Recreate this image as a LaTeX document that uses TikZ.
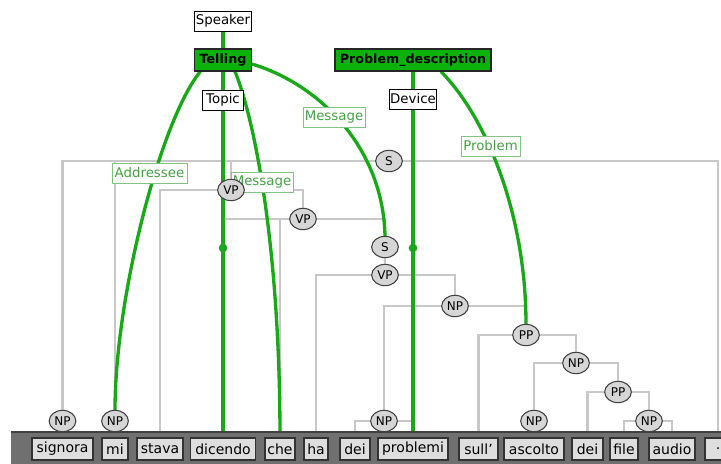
\documentclass[tikz,border=0pt]{standalone}
\usepackage{fontspec}
\setmainfont{DejaVu Sans}
\usetikzlibrary{shapes.geometric}
\definecolor{treegray}{RGB}{200,200,200}
\definecolor{linkgreen}{RGB}{24,168,24}
\definecolor{framefill}{RGB}{10,178,10}
\definecolor{rolegreen}{RGB}{70,160,70}
\definecolor{roleline}{RGB}{130,195,130}
\definecolor{catfill}{RGB}{214,214,214}
\definecolor{barfill}{RGB}{112,112,112}
\definecolor{wordfill}{RGB}{222,222,222}
\pgfdeclarelayer{lines}
\pgfsetlayers{lines,main}

\begin{document}
\begin{tikzpicture}[x=0.75pt, y=-0.75pt, every node/.style={inner sep=0pt, font=\fontsize{10}{12}\selectfont},
  frame/.style={draw=black!85, fill=framefill, line width=0.8pt, minimum height=16.5pt, font=\fontsize{9.5}{11}\selectfont\bfseries},
  fe/.style={draw=black, fill=white, line width=0.7pt, minimum height=15pt},
  role/.style={draw=roleline, fill=white, text=rolegreen, line width=0.7pt, minimum height=15pt},
  cat/.style={ellipse, draw=black!75, fill=catfill, line width=0.8pt, minimum width=20pt, minimum height=16pt, font=\fontsize{9}{10}\selectfont},
  word/.style={draw=black!80, fill=wordfill, line width=0.8pt, minimum height=16.5pt, font=\fontsize{10.5}{12}\selectfont},
  branch/.style={treegray, line width=2.2pt},
  link/.style={linkgreen, line width=2.5pt},
  joint/.style={circle, fill=linkgreen, minimum size=6.5pt}]
  \useasboundingbox (0,0) rectangle (721,464);
  % frames and their elements
  \node[fe, minimum width=42.75pt] (speaker) at (223,21) {Speaker};
  \node[frame, minimum width=42.75pt] (telling) at (223,60) {Telling};
  \node[fe, minimum width=30.75pt] (topic) at (223,100) {Topic};
  \node[frame, minimum width=117pt] (probdesc) at (413,60) {Problem\_description};
  \node[fe, minimum width=35.25pt] (device) at (413,99) {Device};
  \node[role, minimum width=56.25pt] (addressee) at (149.5,173) {Addressee};
  \node[role, minimum width=46.5pt] (message1) at (262,182) {Message};
  \node[role, minimum width=46.5pt] (message2) at (334,117) {Message};
  \node[role, minimum width=44.25pt] (problem) at (490.5,146) {Problem};
  % syntactic categories
  \foreach \n/\x/\y/\c in {s1/389/161/S, np1/62.5/421/NP, np2/115/421/NP, vp1/231/190/VP,
      vp2/303/219/VP, s2/385/247/S, vp3/385/275/VP, np3/455/306/NP, np4/384/421/NP,
      pp1/526/335/PP, np5/576/363/NP, np6/534/421/NP, pp2/618/392/PP, np7/649/421/NP}
    \node[cat] (\n) at (\x,\y) {\c};
  % word bar
  \fill[barfill] (11,432) rectangle (721,464);
  \draw[black!75, line width=1pt] (11,432) -- (721,432);
  \foreach \i/\x/\w/\t in {1/62.5/45.75/signora, 2/115/19.5/mi, 3/160/34.5/stava, 4/223/48.75/dicendo,
      5/280/22.5/che, 6/316/18/ha, 7/355/22.5/dei, 8/413/52.5/problemi, 9/478.5/29.25/sull',
      10/534/45/ascolto, 11/587.5/23.25/dei, 12/624/21/file, 13/672/34.5/audio}
    \node[word, minimum width=\w pt] (w\i) at (\x,449) {\t};
  \node[word, minimum width=19.5pt] (w14) at (718,449) {.};
  \begin{pgfonlayer}{lines}
    % tree branches
    \foreach \a/\b in {s1/np1, s1/np2, s1/vp1, s1/w14, vp1/w3, vp1/vp2, vp2/w4, vp2/w5, vp2/s2,
        vp3/w6, vp3/np3, np3/np4, np3/pp1, np4/w7, np4/w8, pp1/w9, pp1/np5, np5/np6, np5/pp2,
        pp2/w11, pp2/np7, np7/w12, np7/w13}
      \draw[branch] (\a) -| (\b);
    \foreach \a/\b in {np1/w1, np2/w2, s2/vp3, np6/w10}
      \draw[branch] (\a) -- (\b);
    % frame links
    \draw[link] (speaker) -- (telling);
    \draw[link] (telling) -- (w4);
    \draw[link] (probdesc) -- (w8);
    \draw[link] ([xshift=-17pt]telling.south) .. controls +(-40,49) and +(0,-112) .. (np2.north);
    \draw[link] ([xshift=9pt]telling.south) .. controls +(20,49) and +(0,-188) .. (w5.north);
    \draw[link] ([yshift=-3pt]telling.east) .. controls +(69,21) and +(-2,-87) .. (s2.north);
    \draw[link] ([xshift=21pt]probdesc.south) .. controls +(48,49) and +(0,-105) .. (pp1.north);
    \node[joint] (j1) at (223,248) {};
    \node[joint] (j2) at (413,248) {};
  \end{pgfonlayer}
\end{tikzpicture}
\end{document}
